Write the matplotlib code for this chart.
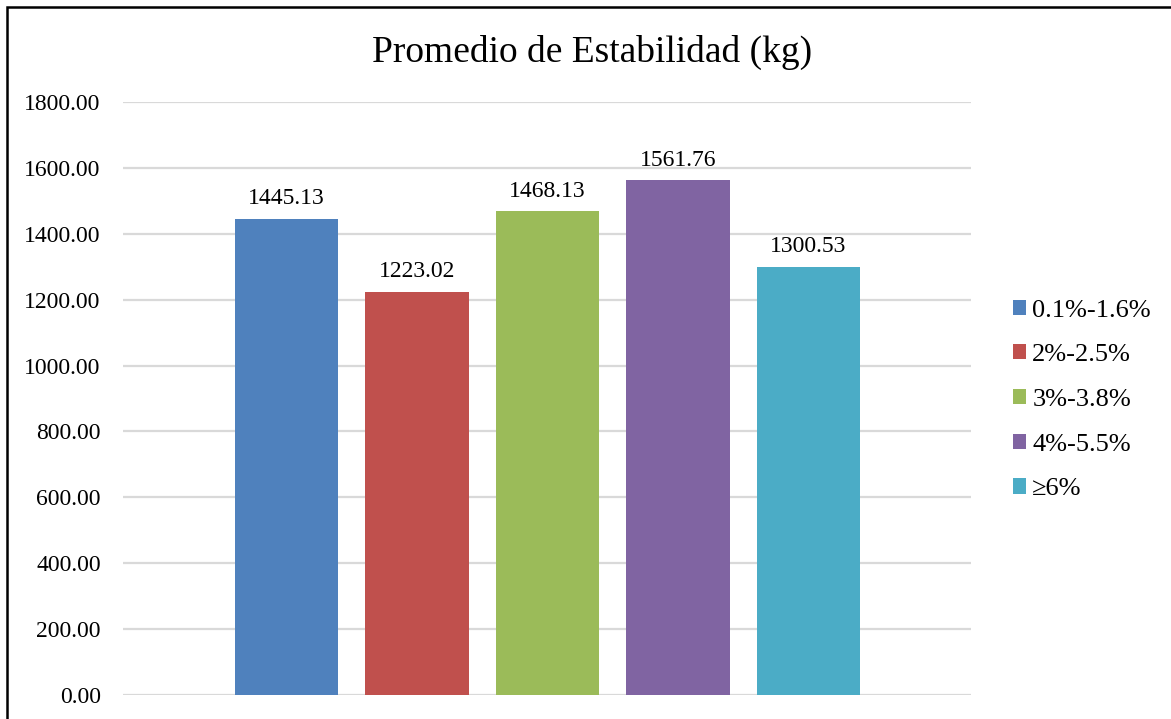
import matplotlib
matplotlib.use("Agg")
import matplotlib.pyplot as plt
from matplotlib.patches import Rectangle, Patch

series = ["0.1%-1.6%", "2%-2.5%", "3%-3.8%", "4%-5.5%", "≥6%"]
values = [1445.13, 1223.02, 1468.13, 1561.76, 1300.53]
colors = ["#4F81BD", "#C0504D", "#9BBB59", "#8064A2", "#4BACC6"]
yticks = [0, 200, 400, 600, 800, 1000, 1200, 1400, 1600, 1800]
title = "Promedio de Estabilidad (kg)"

plt.rcParams['font.family'] = ['Liberation Serif', 'DejaVu Serif']

W, H = 1171, 719
fig = plt.figure(figsize=(W/100, H/100), dpi=100)
ax = fig.add_axes([123/W, 1-695/H, (971-123)/W, (695-102)/H])

x = list(range(len(values)))
bars = ax.bar(x, values, width=0.79, color=colors, zorder=3)
for xi, v in zip(x, values):
    ax.annotate(f"{v:.2f}", (xi, v), xytext=(0, 7), textcoords="offset points",
                ha="center", va="bottom", fontsize=17, color="#000000")

ax.set_xlim(-1.253, 5.245)
ax.set_ylim(0, 1800)
ax.set_yticks(yticks)
ax.set_yticklabels([f"{t:.2f}" for t in yticks], fontsize=17)
ax.set_xticks([])
ax.tick_params(axis='y', length=0, pad=16)
for s in ax.spines.values():
    s.set_visible(False)
ax.grid(axis='y', color="#D9D9D9", linewidth=1.6, zorder=0)
ax.set_axisbelow(True)

fig.text(592/W, 1-52/H, title, ha="center", va="center", fontsize=27)

handles = [Patch(facecolor=c, edgecolor='none') for c in colors]
leg = fig.legend(handles, series, loc="center left", bbox_to_anchor=(1013/W, 1-400/H),
                 frameon=False, fontsize=19, handlelength=0.5, handleheight=0.5,
                 handletextpad=0.23, labelspacing=0.86, borderaxespad=0, borderpad=0)

fig.add_artist(Rectangle((6.5/W, -0.05), 1.2, 1-6.5/H+0.05, transform=fig.transFigure,
                         fill=False, edgecolor="black", linewidth=1.8))

fig.savefig("out.png", dpi=100, facecolor="white")
